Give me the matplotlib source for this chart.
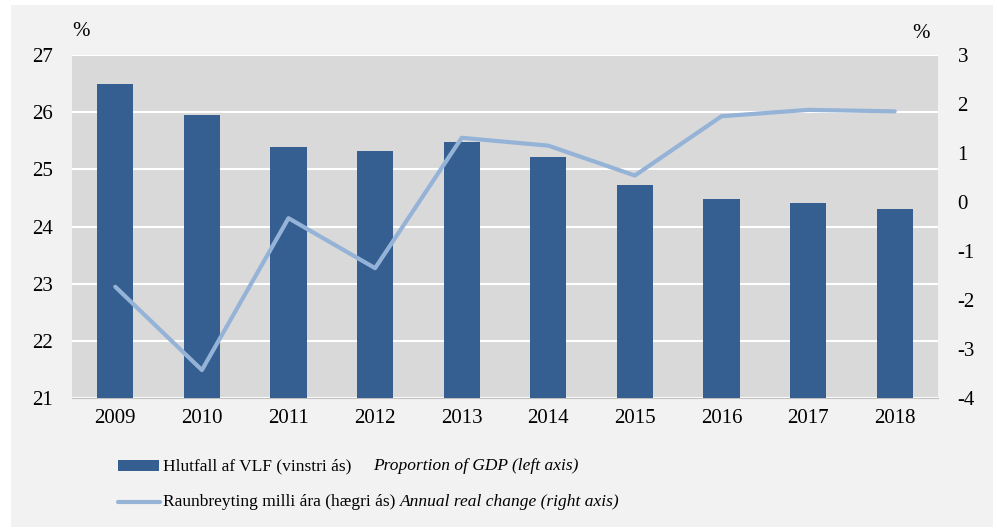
import matplotlib.pyplot as plt
from matplotlib.patches import Rectangle
from matplotlib.lines import Line2D
import numpy as np

years = ["2009", "2010", "2011", "2012", "2013", "2014", "2015", "2016", "2017", "2018"]
share_gdp = [26.5, 25.95, 25.39, 25.32, 25.48, 25.21, 24.72, 24.48, 24.41, 24.31]
real_change = [-1.73, -3.43, -0.33, -1.35, 1.31, 1.15, 0.54, 1.75, 1.88, 1.85]

bar_color = "#355f91"
line_color = "#95b3d7"

plt.rcParams['font.family'] = ['Liberation Serif', 'DejaVu Serif']
plt.rcParams['axes.unicode_minus'] = False

W, H = 997, 532
fig = plt.figure(figsize=(W / 100, H / 100), dpi=100)
fig.patch.set_facecolor("white")
fig.patches.append(Rectangle((11 / W, 1 - 527 / H), (993 - 11) / W, (527 - 5) / H,
                             transform=fig.transFigure, facecolor="#f2f2f2",
                             edgecolor="none", zorder=-10))

left, right, top, bottom = 72, 938, 55, 398
ax = fig.add_axes([left / W, 1 - bottom / H, (right - left) / W, (bottom - top) / H])
ax.set_zorder(1)
ax.set_facecolor("#d9d9d9")

x = np.arange(len(years))
ax.bar(x, share_gdp, width=0.42, color=bar_color, zorder=3)
ax.set_ylim(21, 27)
ax.set_xlim(-0.5, len(years) - 0.5)
ax.set_yticks(range(21, 28))
ax.set_xticks(x)
ax.set_xticklabels(years)
ax.grid(axis="y", color="white", linewidth=1.5, zorder=1)
ax.set_axisbelow(True)
for s in ["top", "left", "right"]:
    ax.spines[s].set_visible(False)
ax.spines["bottom"].set_color("#bfbfbf")
ax.tick_params(axis="both", length=0, labelsize=15, colors="black")
ax.tick_params(axis="y", pad=14)
ax.tick_params(axis="x", pad=8)

ax2 = ax.twinx()
ax2.plot(x, real_change, color=line_color, linewidth=3, solid_capstyle="round", zorder=4)
ax2.set_ylim(-4, 3)
ax2.set_yticks(range(-4, 4))
for s in ["top", "left", "right", "bottom"]:
    ax2.spines[s].set_visible(False)
ax2.tick_params(axis="y", length=0, labelsize=15, pad=14)

fig.text(72 / W, 1 - 31 / H, "%", fontsize=15, va="center", ha="left")
fig.text(930 / W, 1 - 33 / H, "%", fontsize=15, va="center", ha="right")

# legend
fs = 12.5
y1 = 1 - 466 / H
y2 = 1 - 502 / H
fig.patches.append(Rectangle((118 / W, y1 - 5 / H), 41 / W, 11 / H,
                             transform=fig.transFigure, facecolor=bar_color,
                             edgecolor="none", zorder=2))
fig.lines.append(Line2D([118 / W, 160 / W], [y2, y2], transform=fig.transFigure,
                        color=line_color, linewidth=3, solid_capstyle="round"))
fig.text(163 / W, y1, "Hlutfall af VLF (vinstri ás)", fontsize=fs, va="center")
fig.text(373 / W, y1, "Proportion of GDP (left axis)", fontsize=fs, va="center", style="italic")
fig.text(163 / W, y2, "Raunbreyting milli ára (hægri ás)", fontsize=fs, va="center")
fig.text(400 / W, y2, "Annual real change (right axis)", fontsize=fs, va="center", style="italic")

fig.savefig("out.png", dpi=100, facecolor=fig.get_facecolor())
